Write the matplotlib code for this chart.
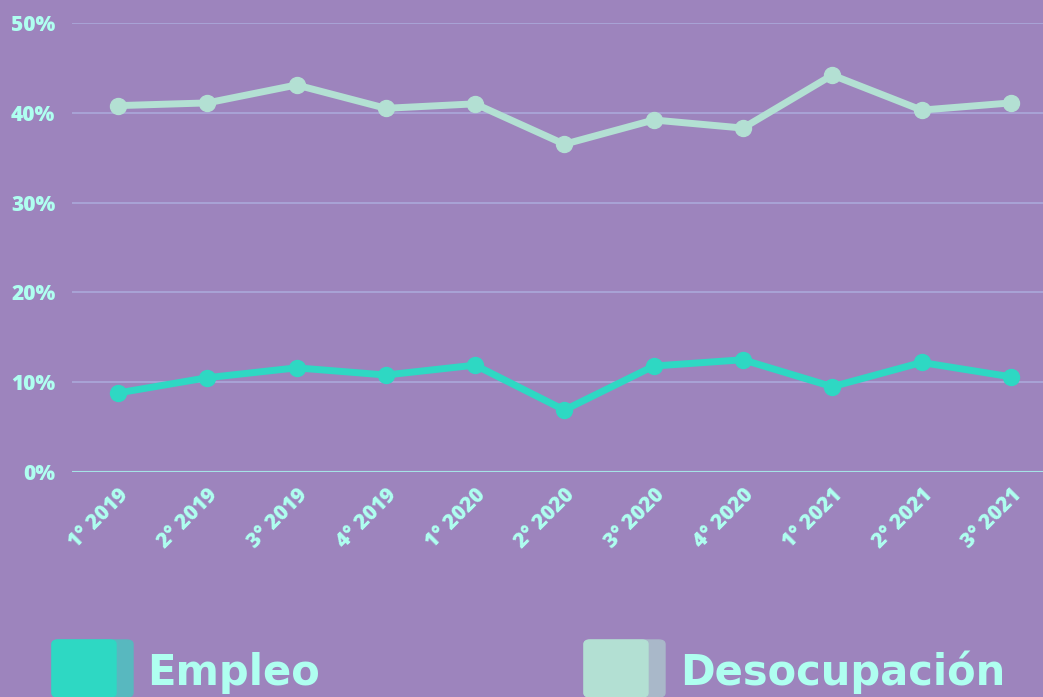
import numpy as np
import matplotlib.pyplot as plt
from matplotlib.patches import FancyBboxPatch

# datos
trimestres = ['1° 2019', '2° 2019', '3° 2019', '4° 2019', '1° 2020', '2° 2020',
              '3° 2020', '4° 2020', '1° 2021', '2° 2021', '3° 2021']
empleo = [8.8, 10.5, 11.6, 10.8, 11.9, 6.9, 11.8, 12.5, 9.5, 12.2, 10.6]
desocupacion = [40.8, 41.1, 43.1, 40.5, 41.0, 36.5, 39.2, 38.3, 44.2, 40.3, 41.1]
yticks = [0, 10, 20, 30, 40, 50]

fondo = '#9d84bd'
texto = '#affff0'
c_empleo = '#2ed8c3'
c_desoc = '#b3e0d3'

fig = plt.figure(figsize=(10.43, 6.97), dpi=100, facecolor=fondo)
ax = fig.add_axes([0.069, 0.3228, 0.931, 0.6442])
ax.set_facecolor(fondo)

x = np.arange(len(trimestres))
ax.plot(x, desocupacion, color=c_desoc, lw=5, marker='o', ms=11.5, zorder=3)
ax.plot(x, empleo, color=c_empleo, lw=5, marker='o', ms=11.5, zorder=3)

ax.set_xlim(-0.515, 10.36)
ax.set_ylim(0, 50)
ax.set_yticks(yticks)
ax.set_yticklabels([f'{v}%' for v in yticks])
for v in yticks[1:]:
    ax.axhline(v, color='#aaa6d8', lw=1.3, zorder=1)
ax.axhline(0, color='#a6e3e6', lw=1.5, zorder=1)

ax.set_xticks(x)
ax.set_xticklabels(trimestres, rotation=45, ha='right', rotation_mode='anchor')
for s in ax.spines.values():
    s.set_visible(False)
ax.tick_params(length=0, colors=texto, labelsize=15)
ax.tick_params(axis='y', pad=12)
ax.tick_params(axis='x', pad=9)
for lbl in ax.get_xticklabels() + ax.get_yticklabels():
    lbl.set_fontfamily('Open Sans')
    lbl.set_fontweight(800)

# leyenda
W, H = 1043, 697
def caja(x0, color, sombra):
    fig.patches.append(FancyBboxPatch((x0 / W, 0 / H), 81 / W, 57 / H,
                       boxstyle='round,pad=0,rounding_size=0.006',
                       transform=fig.transFigure, color=sombra, zorder=1))
    fig.patches.append(FancyBboxPatch((x0 / W, 0 / H), 64 / W, 57 / H,
                       boxstyle='round,pad=0,rounding_size=0.006',
                       transform=fig.transFigure, color=color, zorder=2))

caja(52, c_empleo, '#58b8bf')
caja(584, c_desoc, '#a9b8c9')
fig.text(147 / W, 12 / H, 'Empleo', color=texto, fontsize=30, fontweight='bold',
         family='DejaVu Sans', va='baseline')
fig.text(680 / W, 12 / H, 'Desocupación', color=texto, fontsize=30, fontweight='bold',
         family='DejaVu Sans', va='baseline')

plt.savefig('out.png', facecolor=fondo)
